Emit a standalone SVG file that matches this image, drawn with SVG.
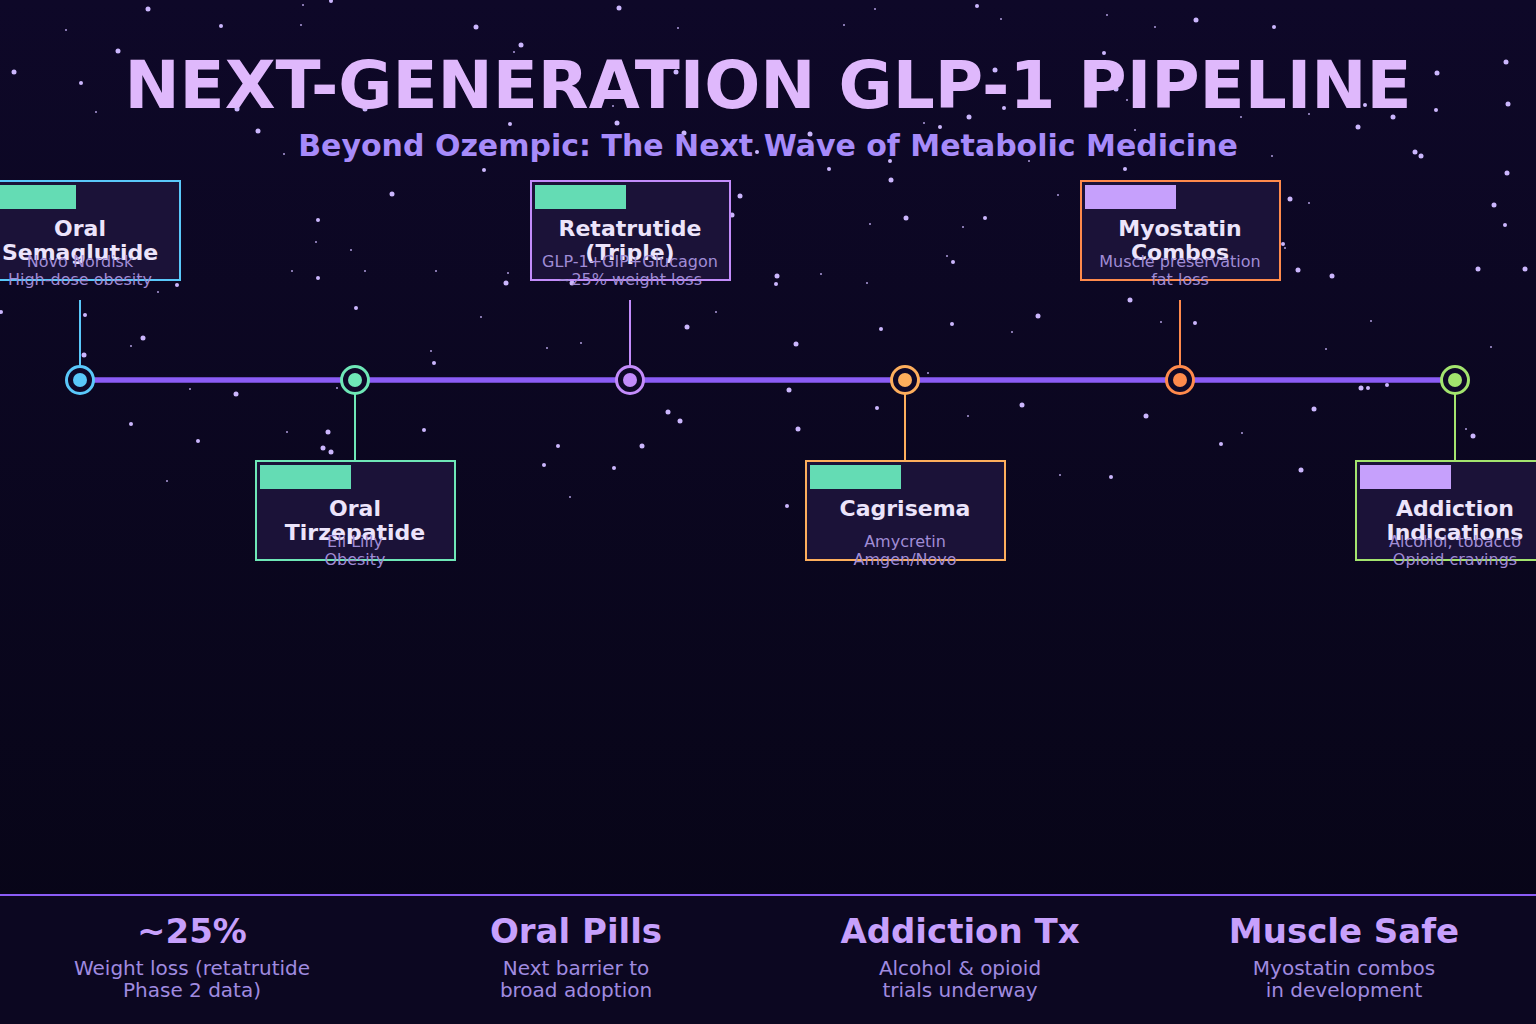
<svg xmlns="http://www.w3.org/2000/svg" width="1536" height="1024" viewBox="0 0 1536 1024">
<defs>
<linearGradient id="bg" x1="0" y1="0" x2="0" y2="1">
<stop offset="0" stop-color="#0e0828"/>
<stop offset="1" stop-color="#070516"/>
</linearGradient>
</defs>
<style>
.s1{fill:#cbb6fd}
.s3{fill:#cbb6fd;opacity:0.85}
.title{font-family:"DejaVu Sans",sans-serif;font-weight:bold;font-size:66px;fill:#dfb8fc;text-anchor:middle}
.subtitle{font-family:"DejaVu Sans",sans-serif;font-weight:bold;font-size:30px;fill:#a78bfa;text-anchor:middle}
.card{fill:#1b1238;stroke-width:2}
.ct{font-family:"DejaVu Sans",sans-serif;font-weight:bold;font-size:22px;fill:#ece4fb;text-anchor:middle}
.cs{font-family:"DejaVu Sans",sans-serif;font-size:16px;fill:#a08cd6;text-anchor:middle}
.conn{stroke-width:2;fill:none}
.ring{fill:#0e0828;stroke-width:3}
.sh{font-family:"DejaVu Sans",sans-serif;font-weight:bold;font-size:34px;fill:#c7a0fc;text-anchor:middle}
.ss{font-family:"DejaVu Sans",sans-serif;font-size:20px;fill:#a08be0;text-anchor:middle}
</style>
<rect x="0" y="0" width="1536" height="1024" fill="url(#bg)"/>
<rect x="0" y="895" width="1536" height="129" fill="#0c0721"/>
<g id="stars">
<circle class="s1" cx="148" cy="9" r="2.5"/><circle class="s3" cx="303" cy="5" r="1"/><circle class="s1" cx="331" cy="1" r="2"/><circle class="s1" cx="619" cy="8" r="2.5"/>
<circle class="s3" cx="66" cy="30" r="1"/><circle class="s1" cx="221" cy="26" r="2"/><circle class="s3" cx="301" cy="25" r="1"/><circle class="s1" cx="476" cy="27" r="2.5"/><circle class="s3" cx="678" cy="28" r="1"/>
<circle class="s1" cx="118" cy="51" r="2.5"/><circle class="s1" cx="521" cy="45" r="2.5"/><circle class="s3" cx="514" cy="52" r="1"/><circle class="s1" cx="14" cy="72" r="2.5"/><circle class="s1" cx="81" cy="83" r="2"/>
<circle class="s3" cx="96" cy="112" r="1"/><circle class="s1" cx="237" cy="109" r="2.5"/><circle class="s1" cx="365" cy="109" r="2.5"/><circle class="s3" cx="613" cy="106" r="1"/><circle class="s1" cx="676" cy="72" r="2.5"/>
<circle class="s1" cx="258" cy="131" r="2.5"/><circle class="s1" cx="510" cy="124" r="2"/><circle class="s1" cx="617" cy="123" r="2.5"/><circle class="s1" cx="684" cy="133" r="2.5"/><circle class="s3" cx="284" cy="154" r="1"/>
<circle class="s1" cx="757" cy="152" r="2"/><circle class="s1" cx="484" cy="170" r="2"/><circle class="s1" cx="392" cy="194" r="2.5"/><circle class="s1" cx="740" cy="196" r="2.5"/><circle class="s1" cx="732" cy="215" r="2.5"/>
<circle class="s1" cx="318" cy="220" r="2"/><circle class="s3" cx="316" cy="242" r="1"/><circle class="s3" cx="351" cy="250" r="1"/><circle class="s3" cx="292" cy="271" r="1"/><circle class="s3" cx="365" cy="271" r="1"/>
<circle class="s3" cx="436" cy="271" r="1"/><circle class="s1" cx="318" cy="278" r="2"/><circle class="s3" cx="508" cy="273" r="1"/><circle class="s1" cx="506" cy="283" r="2.5"/><circle class="s1" cx="572" cy="283" r="2.5"/>
<circle class="s1" cx="177" cy="285" r="2"/><circle class="s3" cx="158" cy="292" r="1"/><circle class="s1" cx="1" cy="312" r="2"/><circle class="s1" cx="85" cy="315" r="2"/><circle class="s1" cx="356" cy="308" r="2"/>
<circle class="s3" cx="481" cy="317" r="1"/><circle class="s3" cx="716" cy="312" r="1"/><circle class="s1" cx="687" cy="327" r="2.5"/><circle class="s1" cx="143" cy="338" r="2.5"/><circle class="s3" cx="131" cy="346" r="1"/>
<circle class="s1" cx="84" cy="355" r="2.5"/><circle class="s3" cx="431" cy="351" r="1"/><circle class="s1" cx="434" cy="363" r="2"/><circle class="s3" cx="547" cy="348" r="1"/><circle class="s3" cx="581" cy="343" r="1"/>
<circle class="s3" cx="190" cy="389" r="1"/><circle class="s1" cx="236" cy="394" r="2.5"/><circle class="s3" cx="337" cy="388" r="1"/><circle class="s1" cx="668" cy="412" r="2.5"/><circle class="s1" cx="680" cy="421" r="2.5"/>
<circle class="s1" cx="131" cy="424" r="2"/><circle class="s1" cx="198" cy="441" r="2"/><circle class="s3" cx="287" cy="432" r="1"/><circle class="s1" cx="328" cy="432" r="2.5"/><circle class="s1" cx="323" cy="448" r="2.5"/>
<circle class="s1" cx="331" cy="452" r="2.5"/><circle class="s1" cx="424" cy="430" r="2"/><circle class="s1" cx="558" cy="446" r="2"/><circle class="s1" cx="642" cy="446" r="2.5"/><circle class="s1" cx="544" cy="465" r="2"/>
<circle class="s1" cx="614" cy="468" r="2"/><circle class="s3" cx="570" cy="497" r="1"/><circle class="s3" cx="167" cy="481" r="1"/>
<circle class="s3" cx="875" cy="9" r="1"/><circle class="s1" cx="977" cy="6" r="2"/><circle class="s3" cx="844" cy="25" r="1"/><circle class="s3" cx="1001" cy="19" r="1"/><circle class="s3" cx="1107" cy="15" r="1"/>
<circle class="s1" cx="1196" cy="20" r="2.5"/><circle class="s1" cx="1274" cy="27" r="2"/><circle class="s3" cx="1155" cy="27" r="1"/><circle class="s1" cx="1104" cy="53" r="2"/><circle class="s1" cx="995" cy="70" r="2.5"/>
<circle class="s1" cx="1116" cy="89" r="2.5"/><circle class="s1" cx="1506" cy="62" r="2.5"/><circle class="s1" cx="1437" cy="73" r="2.5"/><circle class="s1" cx="1508" cy="104" r="2.5"/><circle class="s1" cx="1436" cy="110" r="2"/>
<circle class="s1" cx="1004" cy="108" r="2"/><circle class="s3" cx="1127" cy="100" r="1"/><circle class="s1" cx="969" cy="117" r="2.5"/><circle class="s3" cx="924" cy="123" r="1"/><circle class="s1" cx="940" cy="127" r="2"/>
<circle class="s3" cx="1309" cy="114" r="1"/><circle class="s1" cx="1365" cy="105" r="2"/><circle class="s1" cx="1393" cy="117" r="2.5"/><circle class="s3" cx="1241" cy="117" r="1"/><circle class="s3" cx="1135" cy="130" r="1"/>
<circle class="s1" cx="1358" cy="127" r="2.5"/><circle class="s1" cx="810" cy="134" r="2.5"/><circle class="s1" cx="1415" cy="152" r="2.5"/><circle class="s1" cx="1421" cy="156" r="2.5"/><circle class="s3" cx="1272" cy="156" r="1"/>
<circle class="s1" cx="890" cy="161" r="2"/><circle class="s1" cx="829" cy="169" r="2"/><circle class="s3" cx="1029" cy="161" r="1"/><circle class="s1" cx="1125" cy="169" r="2"/><circle class="s1" cx="1507" cy="173" r="2.5"/>
<circle class="s1" cx="891" cy="180" r="2.5"/><circle class="s3" cx="1058" cy="195" r="1"/><circle class="s1" cx="1290" cy="199" r="2.5"/><circle class="s3" cx="1309" cy="203" r="1"/><circle class="s1" cx="1494" cy="205" r="2.5"/>
<circle class="s1" cx="1505" cy="225" r="2"/><circle class="s1" cx="906" cy="218" r="2.5"/><circle class="s1" cx="985" cy="218" r="2"/><circle class="s3" cx="870" cy="224" r="1"/><circle class="s3" cx="963" cy="227" r="1"/>
<circle class="s1" cx="1283" cy="244" r="2"/><circle class="s3" cx="1285" cy="248" r="1"/><circle class="s3" cx="947" cy="256" r="1"/><circle class="s1" cx="953" cy="262" r="2"/><circle class="s1" cx="777" cy="276" r="2.5"/>
<circle class="s1" cx="776" cy="284" r="2"/><circle class="s3" cx="821" cy="274" r="1"/><circle class="s3" cx="867" cy="283" r="1"/><circle class="s1" cx="1298" cy="270" r="2.5"/><circle class="s1" cx="1332" cy="276" r="2.5"/>
<circle class="s1" cx="1478" cy="269" r="2.5"/><circle class="s1" cx="1525" cy="269" r="2.5"/><circle class="s1" cx="1130" cy="300" r="2.5"/><circle class="s1" cx="1038" cy="316" r="2.5"/><circle class="s1" cx="952" cy="324" r="2"/>
<circle class="s1" cx="881" cy="329" r="2"/><circle class="s3" cx="1012" cy="332" r="1"/><circle class="s1" cx="1195" cy="323" r="2"/><circle class="s3" cx="1161" cy="322" r="1"/><circle class="s1" cx="796" cy="344" r="2.5"/>
<circle class="s3" cx="1371" cy="321" r="1"/><circle class="s3" cx="1326" cy="349" r="1"/><circle class="s3" cx="1491" cy="347" r="1"/><circle class="s1" cx="789" cy="390" r="2.5"/><circle class="s3" cx="928" cy="373" r="1"/>
<circle class="s1" cx="1361" cy="388" r="2.5"/><circle class="s1" cx="1368" cy="388" r="2"/><circle class="s1" cx="1387" cy="385" r="2"/><circle class="s1" cx="877" cy="408" r="2"/><circle class="s1" cx="1022" cy="405" r="2.5"/>
<circle class="s3" cx="968" cy="416" r="1"/><circle class="s1" cx="1314" cy="409" r="2.5"/><circle class="s1" cx="1146" cy="416" r="2.5"/><circle class="s1" cx="798" cy="429" r="2.5"/><circle class="s1" cx="1221" cy="444" r="2"/>
<circle class="s3" cx="1242" cy="433" r="1"/><circle class="s3" cx="1466" cy="429" r="1"/><circle class="s1" cx="1473" cy="436" r="2.5"/><circle class="s1" cx="1301" cy="470" r="2.5"/><circle class="s1" cx="1111" cy="477" r="2"/>
<circle class="s3" cx="1060" cy="475" r="1"/><circle class="s1" cx="787" cy="506" r="2"/>
</g>
<text class="title" x="768" y="108">NEXT-GENERATION GLP-1 PIPELINE</text>
<text class="subtitle" x="768" y="156">Beyond Ozempic: The Next Wave of Metabolic Medicine</text>
<g id="connectors">
<line x1="80" y1="380" x2="1455" y2="380" stroke="#8b5cf6" stroke-width="5.5"/>
<line class="conn" x1="80" y1="300" x2="80" y2="366" stroke="#5ac8fa"/>
<line class="conn" x1="355" y1="394" x2="355" y2="461" stroke="#6ee7b7"/>
<line class="conn" x1="630" y1="300" x2="630" y2="366" stroke="#c38cfb"/>
<line class="conn" x1="905" y1="394" x2="905" y2="461" stroke="#fdae5c"/>
<line class="conn" x1="1180" y1="300" x2="1180" y2="366" stroke="#ff8a4c"/>
<line class="conn" x1="1455" y1="394" x2="1455" y2="461" stroke="#a3e46e"/>
<line x1="0" y1="895" x2="1536" y2="895" stroke="#8b5cf6" stroke-width="2"/>
</g>
<g id="node-oral-semaglutide">
<circle class="ring" cx="80" cy="380" r="13.5" stroke="#5ac8fa"/><circle cx="80" cy="380" r="7" fill="#5ac8fa"/>
<rect class="card" x="-20" y="181" width="200" height="99" stroke="#5ac8fa"/>
<rect x="-15" y="185" width="91" height="24" fill="#64dcb4"/>
<text class="ct" x="80" y="236">Oral</text><text class="ct" x="80" y="260">Semaglutide</text>
<text class="cs" x="80" y="267">Novo Nordisk</text><text class="cs" x="80" y="285">High-dose obesity</text>
</g>
<g id="node-oral-tirzepatide">
<circle class="ring" cx="355" cy="380" r="13.5" stroke="#6ee7b7"/><circle cx="355" cy="380" r="7" fill="#6ee7b7"/>
<rect class="card" x="256" y="461" width="199" height="99" stroke="#6ee7b7"/>
<rect x="260" y="465" width="91" height="24" fill="#64dcb4"/>
<text class="ct" x="355" y="516">Oral</text><text class="ct" x="355" y="540">Tirzepatide</text>
<text class="cs" x="355" y="547">Eli Lilly</text><text class="cs" x="355" y="565">Obesity</text>
</g>
<g id="node-retatrutide">
<circle class="ring" cx="630" cy="380" r="13.5" stroke="#c38cfb"/><circle cx="630" cy="380" r="7" fill="#c38cfb"/>
<rect class="card" x="531" y="181" width="199" height="99" stroke="#c38cfb"/>
<rect x="535" y="185" width="91" height="24" fill="#64dcb4"/>
<text class="ct" x="630" y="236">Retatrutide</text><text class="ct" x="630" y="260">(Triple)</text>
<text class="cs" x="630" y="267">GLP-1+GIP+Glucagon</text><text class="cs" x="630" y="285">~25% weight loss</text>
</g>
<g id="node-cagrisema">
<circle class="ring" cx="905" cy="380" r="13.5" stroke="#fdae5c"/><circle cx="905" cy="380" r="7" fill="#fdae5c"/>
<rect class="card" x="806" y="461" width="199" height="99" stroke="#fdae5c"/>
<rect x="810" y="465" width="91" height="24" fill="#64dcb4"/>
<text class="ct" x="905" y="516">Cagrisema</text>
<text class="cs" x="905" y="547">Amycretin</text><text class="cs" x="905" y="565">Amgen/Novo</text>
</g>
<g id="node-myostatin">
<circle class="ring" cx="1180" cy="380" r="13.5" stroke="#ff8a4c"/><circle cx="1180" cy="380" r="7" fill="#ff8a4c"/>
<rect class="card" x="1081" y="181" width="199" height="99" stroke="#ff8a4c"/>
<rect x="1085" y="185" width="91" height="24" fill="#c6a0fc"/>
<text class="ct" x="1180" y="236">Myostatin</text><text class="ct" x="1180" y="260">Combos</text>
<text class="cs" x="1180" y="267">Muscle preservation</text><text class="cs" x="1180" y="285">fat loss</text>
</g>
<g id="node-addiction">
<circle class="ring" cx="1455" cy="380" r="13.5" stroke="#a3e46e"/><circle cx="1455" cy="380" r="7" fill="#a3e46e"/>
<rect class="card" x="1356" y="461" width="199" height="99" stroke="#a3e46e"/>
<rect x="1360" y="465" width="91" height="24" fill="#c6a0fc"/>
<text class="ct" x="1455" y="516">Addiction</text><text class="ct" x="1455" y="540">Indications</text>
<text class="cs" x="1455" y="547">Alcohol, tobacco</text><text class="cs" x="1455" y="565">Opioid cravings</text>
</g>
<g id="stats">
<text class="sh" x="192" y="943">~25%</text><text class="ss" x="192" y="975">Weight loss (retatrutide</text><text class="ss" x="192" y="997">Phase 2 data)</text>
<text class="sh" x="576" y="943">Oral Pills</text><text class="ss" x="576" y="975">Next barrier to</text><text class="ss" x="576" y="997">broad adoption</text>
<text class="sh" x="960" y="943">Addiction Tx</text><text class="ss" x="960" y="975">Alcohol &amp; opioid</text><text class="ss" x="960" y="997">trials underway</text>
<text class="sh" x="1344" y="943">Muscle Safe</text><text class="ss" x="1344" y="975">Myostatin combos</text><text class="ss" x="1344" y="997">in development</text>
</g>
</svg>
